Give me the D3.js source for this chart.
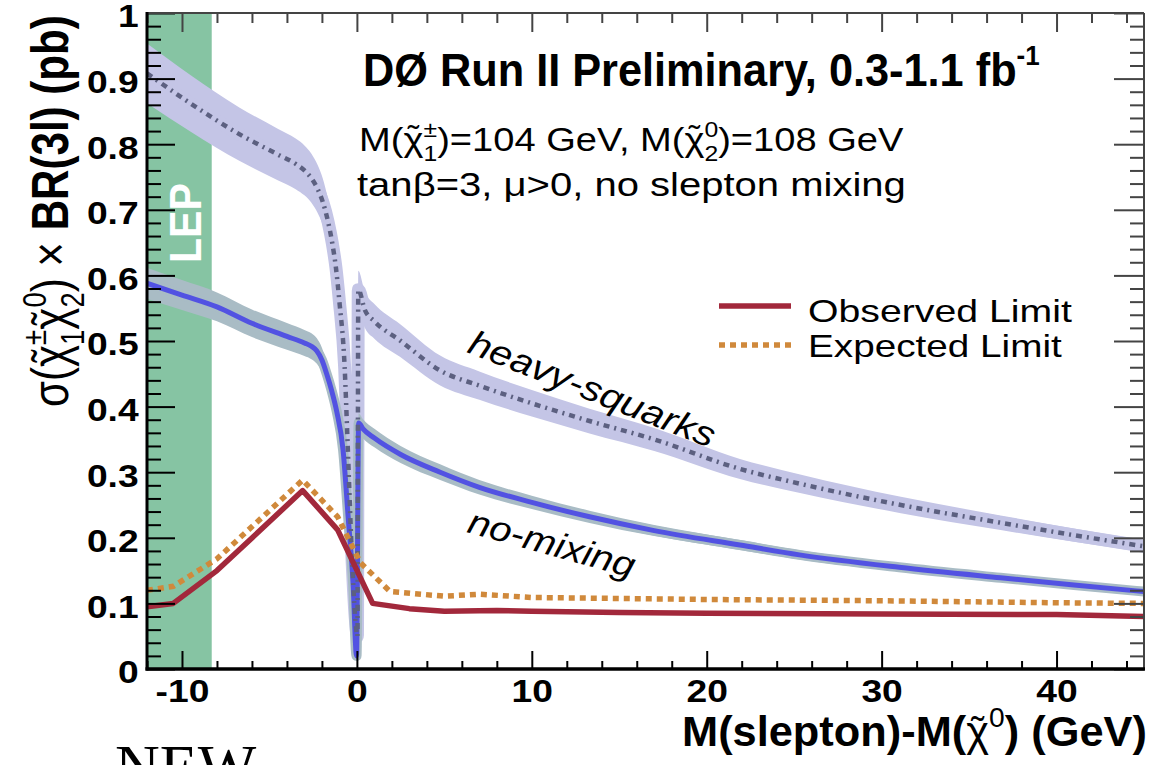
<!DOCTYPE html>
<html><head><meta charset="utf-8">
<script src="https://cdn.jsdelivr.net/npm/d3@7"></script>
<style>
html,body{margin:0;padding:0;background:#fff;}
svg{display:block;font-family:"Liberation Sans",Arial,Helvetica,sans-serif;}
</style></head><body>
<svg id="chart" width="1161" height="765"></svg>
<script>
// ---- data ----
const xMajorTicks = [-10, 0, 10, 20, 30, 40];
const xTickLabels = ["-10", "0", "10", "20", "30", "40"];
const yMajorTicks = [0, 0.1, 0.2, 0.3, 0.4, 0.5, 0.6, 0.7, 0.8, 0.9, 1];
const yTickLabels = ["0", "0.1", "0.2", "0.3", "0.4", "0.5", "0.6", "0.7", "0.8", "0.9", "1"];
const lepExcluded = [-12, -8.3];

// observed 95% CL limit (pb)
const obsX = [-12, -10.5, -8, -3.1, -1.1, 0.9, 3, 5, 8, 10, 15, 20, 30, 40, 45];
const obsY = [0.095, 0.100, 0.150, 0.272, 0.212, 0.100, 0.092, 0.088, 0.089, 0.088, 0.086, 0.085, 0.084, 0.083, 0.080];
// expected limit (pb)
const expX = [-12, -10.5, -8, -3.1, -1.1, 0.2, 1.9, 5, 7, 10, 20, 30, 40, 45];
const expY = [0.120, 0.126, 0.168, 0.288, 0.232, 0.162, 0.118, 0.111, 0.114, 0.109, 0.106, 0.104, 0.101, 0.100];
// sigma x BR, no-mixing scenario
const noMixX = [-12, -10, -8, -6, -4, -3, -2.6, -2.3, -2.0, -1.73, -1.45, -1.15, -0.79, -0.5, -0.22, -0.02, 0.1, 0.35, 1, 2.5, 4.76, 7, 10, 13.3, 17, 21.9, 25.3, 31, 36.8, 41, 45];
const noMixY = [0.588, 0.570, 0.552, 0.527, 0.507, 0.497, 0.492, 0.485, 0.471, 0.450, 0.425, 0.392, 0.334, 0.232, 0.131, 0.020, 0.375, 0.366, 0.352, 0.327, 0.300, 0.277, 0.254, 0.232, 0.211, 0.189, 0.174, 0.155, 0.139, 0.128, 0.118];
// sigma x BR, heavy-squarks scenario
const heavyX = [-12, -9.5, -6.7, -4.5, -3.5, -3.0, -2.6, -2.25, -1.95, -1.65, -1.4, -1.2, -1.0, -0.7, -0.53, -0.3, -0.1, 0.03, 0.08, 0.46, 1.0, 2.46, 4.76, 7, 10, 13.3, 17, 21.9, 25.4, 31.1, 36.8, 41, 45];
const heavyY = [0.908, 0.862, 0.815, 0.784, 0.770, 0.760, 0.748, 0.732, 0.712, 0.682, 0.648, 0.612, 0.560, 0.460, 0.344, 0.181, 0.080, 0.050, 0.578, 0.547, 0.530, 0.501, 0.455, 0.432, 0.405, 0.378, 0.350, 0.305, 0.282, 0.250, 0.223, 0.204, 0.187];
// relative theory uncertainty drawn as bands
const noMixUnc = 0.04;
const heavyUnc = 0.05;

// ---- layout ----
const svg = d3.select("#chart");
const x = d3.scaleLinear().domain([-12, 45]).range([147, 1144]);
const y = d3.scaleLinear().domain([0, 1]).range([669, 13]);
const FONT = '"Liberation Sans",Arial,Helvetica,sans-serif';

const zip = (xs, ys) => xs.map((v, i) => [v, ys[i]]);

svg.append("defs").append("clipPath").attr("id", "plotclip")
  .append("rect").attr("x", x(-12)).attr("y", y(1)).attr("width", x(45) - x(-12)).attr("height", y(0) - y(1));

// LEP excluded region
svg.append("rect")
  .attr("x", x(lepExcluded[0])).attr("y", y(1))
  .attr("width", x(lepExcluded[1]) - x(lepExcluded[0])).attr("height", y(0) - y(1))
  .attr("fill", "#86c4a3");

const plot = svg.append("g").attr("clip-path", "url(#plotclip)");

const lineGen = d3.line().x(d => x(d[0])).y(d => y(d[1]));
const smoothLine = d3.line().x(d => x(d[0])).y(d => y(d[1])).curve(d3.curveMonotoneX);
const bandGen = u => d3.area().x(d => x(d[0])).y0(d => y(d[1] * (1 - u))).y1(d => y(d[1] * (1 + u))).curve(d3.curveMonotoneX);

const heavy = zip(heavyX, heavyY);
const noMix = zip(noMixX, noMixY);

// uncertainty bands
plot.append("path").datum(heavy).attr("d", bandGen(heavyUnc)).attr("fill", "#c4c5e6");
plot.append("path").datum(heavy).attr("d", smoothLine).attr("fill", "none")
  .attr("stroke", "#c4c5e6").attr("stroke-width", 13).attr("stroke-linejoin", "round");
plot.append("path").datum(noMix).attr("d", bandGen(noMixUnc)).attr("fill", "#a9bcc5");
plot.append("path").datum(noMix).attr("d", smoothLine).attr("fill", "none")
  .attr("stroke", "#a9bcc5").attr("stroke-width", 10).attr("stroke-linejoin", "round");

// central theory curves
plot.append("path").datum(noMix).attr("d", smoothLine).attr("fill", "none")
  .attr("stroke", "#5252e2").attr("stroke-width", 5);
plot.append("path").datum(heavy).attr("d", smoothLine).attr("fill", "none")
  .attr("stroke", "#5c6080").attr("stroke-width", 4.5).attr("stroke-dasharray", "6,5,2,5");

// limits
plot.append("path").datum(zip(expX, expY)).attr("d", lineGen).attr("fill", "none")
  .attr("stroke", "#d0893b").attr("stroke-width", 5.5).attr("stroke-dasharray", "6,5");
plot.append("path").datum(zip(obsX, obsY)).attr("d", lineGen).attr("fill", "none")
  .attr("stroke", "#a2283b").attr("stroke-width", 5.5).attr("stroke-linejoin", "round");

// ---- axes ----
const xMinor = d3.range(-12, 45.01, 2).filter(v => !xMajorTicks.includes(v));
const yMinor = d3.range(0, 1.001, 0.02).map(v => +v.toFixed(2)).filter(v => !yMajorTicks.some(m => Math.abs(m - v) < 1e-6));

function styleAxis(g, color, width) {
  g.select(".domain").remove();
  g.selectAll(".tick line").attr("stroke", color).attr("stroke-width", width);
}
const TICKFS = 31;

// bottom
const gb = svg.append("g").attr("transform", `translate(0,${y(0)})`);
gb.call(d3.axisBottom(x).tickValues(xMajorTicks).tickSize(-18).tickSizeOuter(0).tickPadding(11)
  .tickFormat((d, i) => xTickLabels[i]));
gb.append("g").call(d3.axisBottom(x).tickValues(xMinor).tickSize(-8).tickSizeOuter(0).tickFormat(""));
styleAxis(gb, "#000", 2);
gb.selectAll("text").attr("fill", "#000").style("font-family", FONT).style("font-size", TICKFS + "px")
  .style("font-weight", "bold").attr("transform", "scale(1.2,1)");

// top
const gt = svg.append("g").attr("transform", `translate(0,${y(1)})`);
gt.call(d3.axisTop(x).tickValues(xMajorTicks).tickSize(-19).tickSizeOuter(0).tickFormat(""));
gt.append("g").call(d3.axisTop(x).tickValues(xMinor).tickSize(-10).tickSizeOuter(0).tickFormat(""));
styleAxis(gt, "#444", 2);

// left
const gl = svg.append("g").attr("transform", `translate(${x(-12)},0)`);
gl.call(d3.axisLeft(y).tickValues(yMajorTicks).tickSize(-28).tickSizeOuter(0).tickPadding(7)
  .tickFormat((d, i) => yTickLabels[i]));
gl.append("g").call(d3.axisLeft(y).tickValues(yMinor).tickSize(-14).tickSizeOuter(0).tickFormat(""));
styleAxis(gl, "#000", 2);
gl.selectAll("text").attr("fill", "#000").attr("dy", "0.45em").style("font-family", FONT)
  .style("font-size", TICKFS + "px").style("font-weight", "bold").attr("transform", "scale(1.2,1)");

// right
const gr = svg.append("g").attr("transform", `translate(${x(45)},0)`);
gr.call(d3.axisRight(y).tickValues(yMajorTicks).tickSize(-30).tickSizeOuter(0).tickFormat(""));
gr.append("g").call(d3.axisRight(y).tickValues(yMinor).tickSize(-14).tickSizeOuter(0).tickFormat(""));
styleAxis(gr, "#444", 2);

// frame
svg.append("line").attr("x1", x(-12)).attr("x2", x(45)).attr("y1", y(1)).attr("y2", y(1)).attr("stroke", "#444").attr("stroke-width", 2);
svg.append("line").attr("x1", x(45)).attr("x2", x(45)).attr("y1", y(1)).attr("y2", y(0)).attr("stroke", "#444").attr("stroke-width", 2);
svg.append("line").attr("x1", x(-12)).attr("x2", x(-12)).attr("y1", y(1) - 1).attr("y2", y(0) + 1.5).attr("stroke", "#000").attr("stroke-width", 3);
svg.append("line").attr("x1", x(-12) - 1.5).attr("x2", x(45) + 1).attr("y1", y(0)).attr("y2", y(0)).attr("stroke", "#000").attr("stroke-width", 3.5);

// ---- text helpers ----
const meas = svg.append("text").attr("x", -2000).attr("y", -2000).style("font-family", FONT);
function textWidth(str, size, weight, style) {
  meas.style("font-size", size + "px").style("font-weight", weight || "normal").style("font-style", style || "normal").text(str);
  return meas.node().getComputedTextLength();
}
// segments: {t, scale, shift (em, negative = up), weight, stack (start above previous), tilde}
function richText(segs, o) {
  const g = svg.append("g");
  const t = g.append("text").attr("x", 0).attr("y", 0).attr("fill", o.fill || "#000")
    .style("font-family", o.family || FONT).style("font-size", o.size + "px")
    .style("font-weight", o.weight || "normal").style("font-style", o.style || "normal");
  let cur = 0, prevW = 0, pending = 0;
  segs.forEach(s => {
    const fs = o.size * (s.scale || 1);
    const wt = s.weight || o.weight || "normal";
    const target = (s.shift || 0) * o.size;
    const ts = t.append("tspan").text(s.t).style("font-size", fs + "px").style("font-weight", wt)
      .attr("dy", target - cur);
    let dx = pending + (s.dx || 0);
    if (s.stack) dx -= prevW;
    if (dx) ts.attr("dx", dx);
    pending = 0;
    cur = target;
    prevW = textWidth(s.t, fs, wt, o.style);
    if (s.tilde) {
      // tilde accent centred over the last glyph of this segment
      const last = s.t.slice(-1);
      const wl = textWidth(last, fs, wt, o.style);
      const tfs = fs * 0.9;
      const wt2 = textWidth("\u02DC", tfs, "normal", o.style);
      t.append("tspan").text("\u02DC").style("font-size", tfs + "px").style("font-weight", "normal")
        .attr("dx", -(wl + wt2) / 2).attr("dy", -0.08 * fs);
      t.select("tspan:last-child");
      cur = target - 0.08 * fs;
      pending = (wl - wt2) / 2;
      // restore baseline on next segment via cur tracking
    }
  });
  const b = t.node().getBBox();
  const sx = o.width ? o.width / b.width : 1;
  const off = o.anchor === "middle" ? -(b.x + b.width / 2) : -b.x;
  g.attr("transform", `translate(${o.x0},${o.y0}) rotate(${o.rot || 0}) scale(${sx},${o.sy || 1}) translate(${off},0)`);
  return g;
}
const CHI = "\u03C7";

// title block
richText([{ t: "D\u00D8 Run II Preliminary, 0.3-1.1 fb" }, { t: "-1", scale: 0.6, shift: -0.45 }],
  { size: 46, weight: "bold", x0: 363, y0: 86, width: 677 });
richText([
  { t: "M(" + CHI, tilde: true }, { t: "\u00B1", scale: 0.65, shift: -0.42 }, { t: "1", scale: 0.65, shift: 0.3, stack: true },
  { t: ")=104 GeV, M(" + CHI, tilde: true }, { t: "0", scale: 0.65, shift: -0.42 }, { t: "2", scale: 0.65, shift: 0.3, stack: true },
  { t: ")=108 GeV" }],
  { size: 34, x0: 359, y0: 151, width: 545 });
richText([{ t: "tan\u03B2=3, \u03BC>0, no slepton mixing" }], { size: 34, x0: 357, y0: 196, width: 549 });

// legend
const legY1 = 306, legY2 = 345;
svg.append("line").attr("x1", 719).attr("x2", 791).attr("y1", legY1).attr("y2", legY1)
  .attr("stroke", "#a2283b").attr("stroke-width", 5.5);
svg.append("line").attr("x1", 719).attr("x2", 791).attr("y1", legY2).attr("y2", legY2)
  .attr("stroke", "#d0893b").attr("stroke-width", 5.5).attr("stroke-dasharray", "6,5");
richText([{ t: "Observed Limit" }], { size: 32, x0: 808, y0: 322, width: 264 });
richText([{ t: "Expected Limit" }], { size: 32, x0: 808, y0: 357, width: 254 });

// curve labels
richText([{ t: "heavy-squarks" }], { size: 35, style: "italic", x0: 466, y0: 352, rot: 21.5, width: 262 });
richText([{ t: "no-mixing" }], { size: 35, style: "italic", x0: 466, y0: 532, rot: 15.5, width: 172 });

// LEP label
richText([{ t: "LEP" }], { size: 41, weight: "bold", fill: "#fff", x0: 201, y0: 223, rot: -90, anchor: "middle", width: 80, sy: 1.1 });

// axis titles
richText([{ t: "M(slepton)-M(" }, { t: CHI, weight: "normal", tilde: true }, { t: "0", scale: 0.65, shift: -0.45, weight: "normal" },
  { t: ") (GeV)", shift: 0 }],
  { size: 42, weight: "bold", x0: 682, y0: 746, width: 465 });
richText([
  { t: "\u03C3(" + CHI, weight: "normal", tilde: true }, { t: "\u00B1", scale: 0.65, shift: -0.42, weight: "normal" },
  { t: "1", scale: 0.65, shift: 0.3, stack: true, weight: "normal" },
  { t: CHI, weight: "normal", tilde: true }, { t: "0", scale: 0.65, shift: -0.42, weight: "normal" },
  { t: "2", scale: 0.65, shift: 0.3, stack: true, weight: "normal" },
  { t: ") \u00D7 ", weight: "normal" }, { t: "BR(3l) (pb)" }],
  { size: 40, weight: "bold", x0: 68, y0: 407, rot: -90, width: 392, sy: 1.3 });

// corner stamp
svg.append("text").attr("x", 115).attr("y", 787).text("NEW")
  .style("font-family", '"Liberation Serif","Times New Roman",serif').style("font-size", "62px").attr("fill", "#000");
meas.remove();
</script>
</body></html>
